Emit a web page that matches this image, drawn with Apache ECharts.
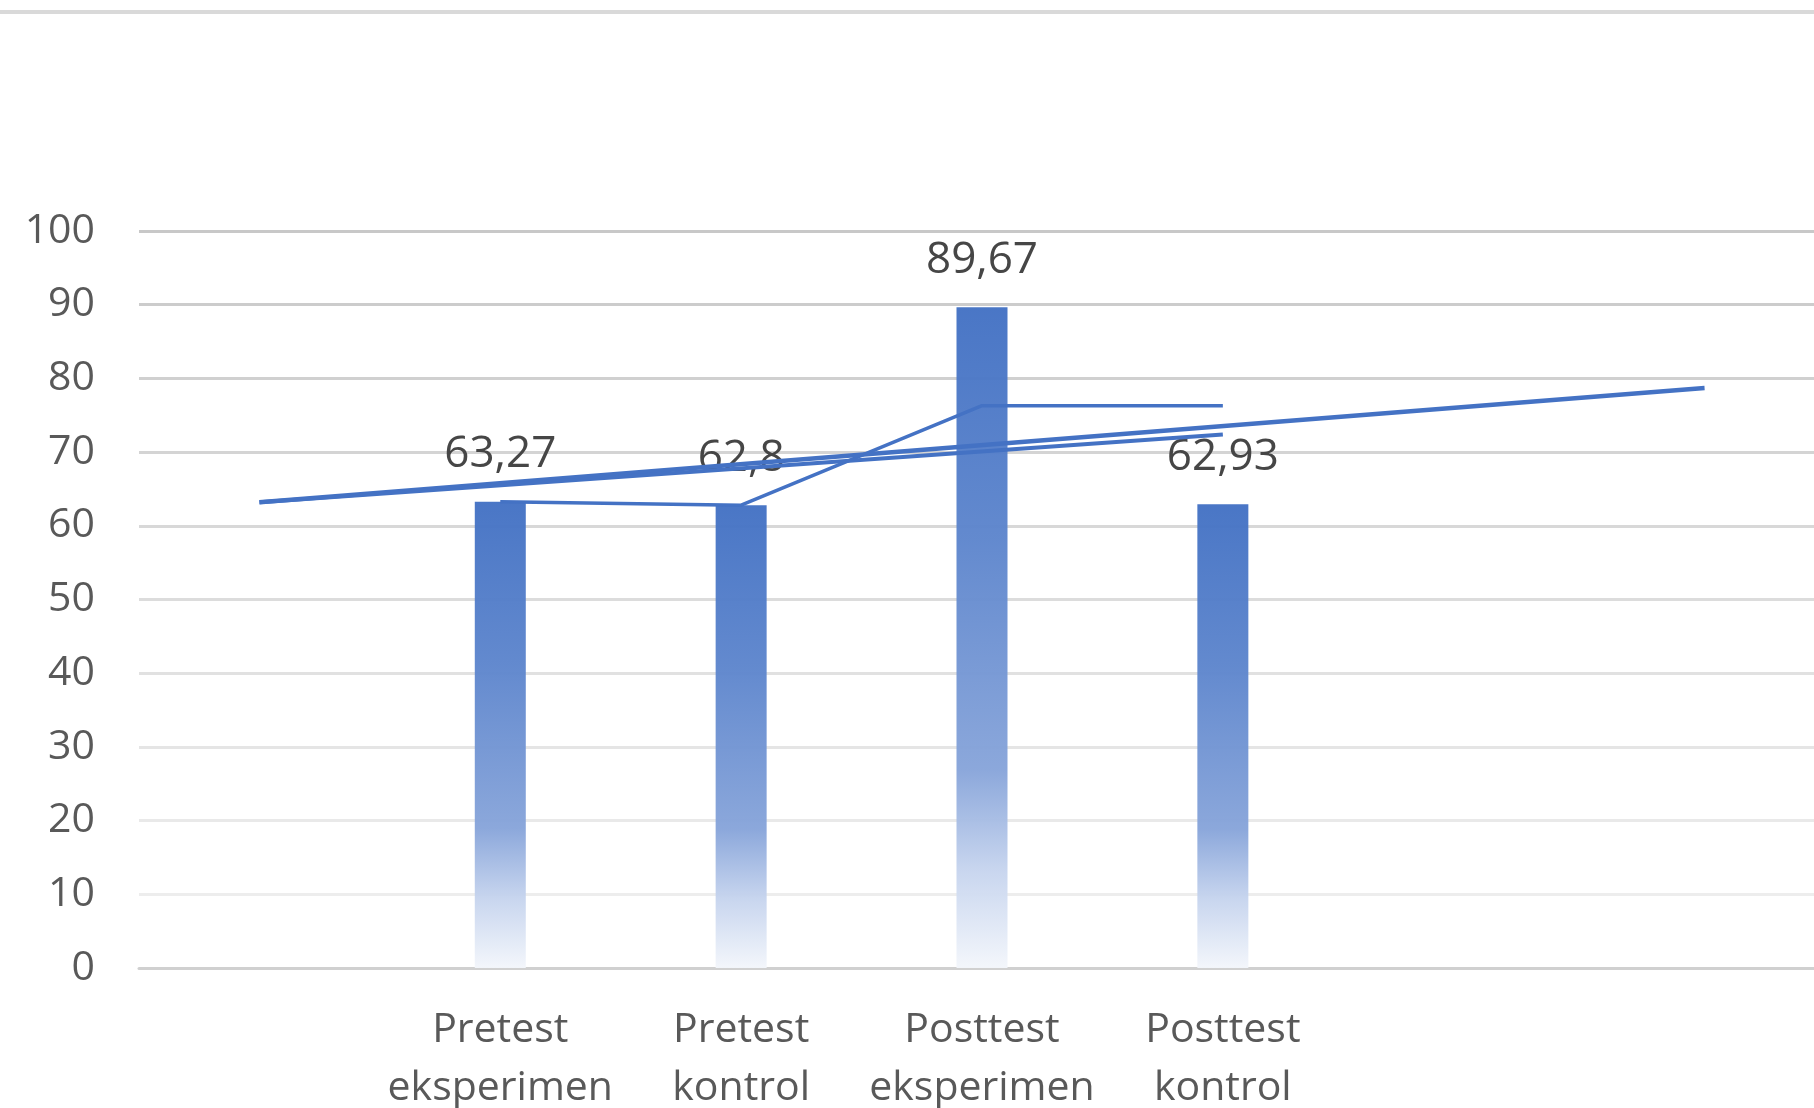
<!DOCTYPE html>
<html>
<head>
<meta charset="utf-8">
<script src="https://cdn.jsdelivr.net/npm/echarts@6/dist/echarts.min.js"></script>
<style>
  html, body { margin: 0; padding: 0; background: #ffffff; }
  #chart { width: 1814px; height: 1108px; }
</style>
</head>
<body>
<div id="chart"></div>
<script>
// ---- data ----
const categories = ['', 'Pretest\neksperimen', 'Pretest\nkontrol', 'Posttest\neksperimen', 'Posttest\nkontrol', '', ''];
const barValues = ['-', 63.27, 62.8, 89.67, 62.93, '-', '-'];
const lineValues = ['-', 63.27, 62.8, 76.3, 76.3, '-', '-'];
const trendBarValues = [63.2, '-', '-', '-', '-', '-', 78.7];
const trendLineValues = [63.2, '-', '-', '-', 72.4, '-', '-'];
const yTicks = { min: 0, max: 100, interval: 10 };

const blue = '#4472C4';
const font = 'Open Sans';

const chart = echarts.init(document.getElementById('chart'), null, { renderer: 'canvas' });

const gridColors = ['#d0d0d0', '#ededed', '#e9e9e9', '#e5e5e5', '#e1e1e1', '#dcdcdc', '#d8d8d8', '#d4d4d4', '#d0d0d0', '#cccccc', '#c8c8c8'];

const option = {
  backgroundColor: '#ffffff',
  animation: false,
  graphic: [{
    type: 'rect',
    left: 0, top: 10,
    shape: { width: 1814, height: 4 },
    style: { fill: '#d9d9d9' },
    silent: true
  }],
  grid: { left: 139, right: -11, top: 231, bottom: 140, containLabel: false, outerBoundsMode: 'none' },
  xAxis: {
    type: 'category',
    data: categories,
    boundaryGap: true,
    axisTick: { show: false },
    axisLine: { show: true, lineStyle: { color: '#d0d0d0', width: 3 } },
    axisLabel: {
      interval: 0,
      margin: 33,
      color: '#595959',
      fontFamily: font,
      fontSize: 41,
      lineHeight: 58,
      align: 'center'
    },
    splitLine: { show: false }
  },
  yAxis: {
    type: 'value',
    min: yTicks.min,
    max: yTicks.max,
    interval: yTicks.interval,
    axisLine: { show: false },
    axisTick: { show: false },
    axisLabel: {
      margin: 44,
      color: '#595959',
      fontFamily: font,
      fontSize: 41
    },
    splitLine: { show: true, lineStyle: { color: gridColors, width: 3 } }
  },
  series: [
    {
      name: 'Nilai',
      type: 'bar',
      data: barValues,
      barWidth: 51,
      z: 2,
      itemStyle: {
        opacity: 0.97,
        color: new echarts.graphic.LinearGradient(0, 0, 0, 1, [
          { offset: 0, color: '#4472C4' },
          { offset: 0.35, color: '#5e86cd' },
          { offset: 0.7, color: '#88a5da' },
          { offset: 0.85, color: '#c6d4ee' },
          { offset: 1, color: '#f3f6fb' }
        ])
      },
      label: {
        show: true,
        position: 'top',
        distance: 25,
        color: '#404040',
        fontFamily: font,
        fontSize: 44,
        formatter: p => String(p.value).replace('.', ',')
      }
    },
    {
      name: 'Garis',
      type: 'line',
      data: lineValues,
      symbol: 'none',
      z: 4,
      lineStyle: { color: blue, width: 3.5 }
    },
    {
      name: 'Tren batang',
      type: 'line',
      data: trendBarValues,
      connectNulls: true,
      symbol: 'none',
      z: 5,
      lineStyle: { color: blue, width: 4.5 }
    },
    {
      name: 'Tren garis',
      type: 'line',
      data: trendLineValues,
      connectNulls: true,
      symbol: 'none',
      z: 5,
      lineStyle: { color: blue, width: 4 }
    }
  ]
};

chart.setOption(option);
</script>
</body>
</html>
